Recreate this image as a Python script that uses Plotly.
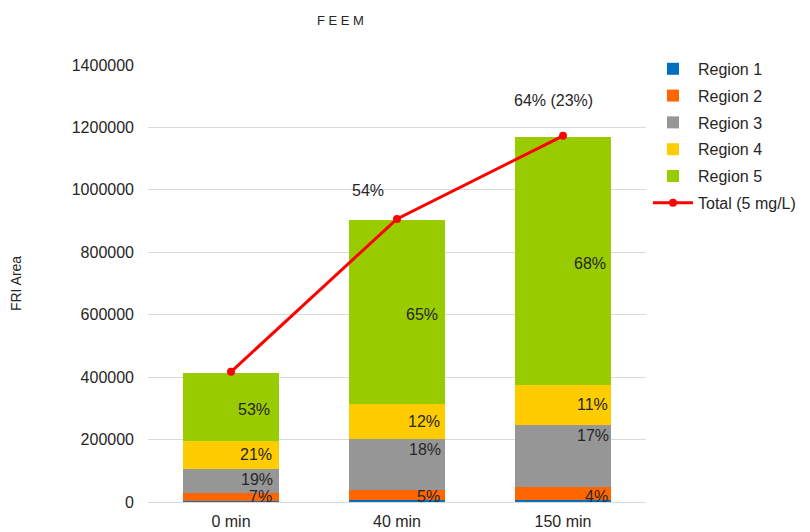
import plotly.graph_objects as go

categories = ["0 min", "40 min", "150 min"]
region1 = [4000, 5000, 5000]
region2 = [26000, 35000, 42000]
region3 = [77000, 163000, 200000]
region4 = [89000, 112000, 128000]
region5 = [218000, 589000, 795000]
total = [417000, 907000, 1173000]

pct2 = ["7%", "5%", "4%"]
pct3 = ["19%", "18%", "17%"]
pct4 = ["21%", "12%", "11%"]
pct5 = ["53%", "65%", "68%"]
total_labels = ["", "54%", "64% (23%)"]

names = ["Region 1", "Region 2", "Region 3", "Region 4", "Region 5"]
colors = ["#0070C0", "#FF6600", "#969696", "#FFCC00", "#99CC00"]
series = [region1, region2, region3, region4, region5]

FONT = "Liberation Sans"
TXT = "#262626"
fig = go.Figure()
for i, (n, c, s) in enumerate(zip(names, colors, series)):
    fig.add_trace(go.Bar(x=categories, y=s, name=n, marker=dict(color=c, line=dict(width=0)),
                         width=0.58, legendgroup=n, hoverinfo="y+name"))
fig.add_trace(go.Scatter(x=categories, y=total, name="Total (5 mg/L)", mode="lines+markers",
                         line=dict(color="#FF0000", width=3), marker=dict(size=8, color="#FF0000"),
                         legendgroup="tot"))

# percentage annotations (offsets are styling only)
shift_right = [43, 45, 47]
total_shift = [(0, 0), (-29, 18), (-10, 25)]
ann = []
for j, cat in enumerate(categories):
    xs = shift_right[j]
    base = region1[j]
    ann.append(dict(x=cat, y=0, text=pct2[j], yanchor="bottom", xshift=xs, yshift=-5, xanchor="right"))
    base2 = base + region2[j]
    top3 = base2 + region3[j]
    ann.append(dict(x=cat, y=top3, text=pct3[j], yanchor="top", xshift=xs + 1, yshift=0, xanchor="right"))
    top4 = top3 + region4[j]
    ann.append(dict(x=cat, y=(top3 + top4) / 2, text=pct4[j], yanchor="middle", xshift=xs, xanchor="right"))
    top5 = top4 + region5[j]
    ann.append(dict(x=cat, y=(top4 + top5) / 2, text=pct5[j], yanchor="middle", xshift=xs - 2, yshift=-3,
                    xanchor="right"))
    if total_labels[j]:
        dx, dy = total_shift[j]
        ann.append(dict(x=cat, y=total[j], text=total_labels[j], yanchor="bottom", xshift=dx, yshift=dy,
                        xanchor="center"))
for a in ann:
    a.update(showarrow=False, font=dict(family=FONT, size=16, color=TXT))
fig.update_layout(annotations=ann)
fig.add_annotation(text="F E E M", xref="paper", yref="paper", x=(340 - 148) / 498, y=1,
                   yshift=54, showarrow=False, font=dict(family=FONT, size=13, color=TXT))

fig.update_layout(
    barmode="stack",
    width=802, height=524,
    margin=dict(l=140, r=164, t=57, b=30, autoexpand=False),
    paper_bgcolor="white", plot_bgcolor="white",
    font=dict(family=FONT, size=16, color=TXT),
    showlegend=True,
    legend=dict(x=(648 - 148) / 498, xanchor="left", y=1.030, yanchor="top", traceorder="grouped",
                tracegroupgap=3, font=dict(family=FONT, size=16, color=TXT),
                itemwidth=40, bgcolor="rgba(0,0,0,0)"),
    xaxis=dict(showgrid=False, showline=True, linecolor="#D9D9D9", linewidth=1,
               ticks="", tickfont=dict(size=16), automargin=False, ticklabelstandoff=5),
    yaxis=dict(range=[0, 1400000], dtick=200000, showgrid=True, gridcolor="#D9D9D9",
               zeroline=False, tickformat="d", ticks="", showline=False, automargin=False,
               ticklabelstandoff=13,
               title=dict(text="FRI Area", font=dict(size=14), standoff=47),
               tickfont=dict(size=16)),
)
fig.write_html("out.html")
